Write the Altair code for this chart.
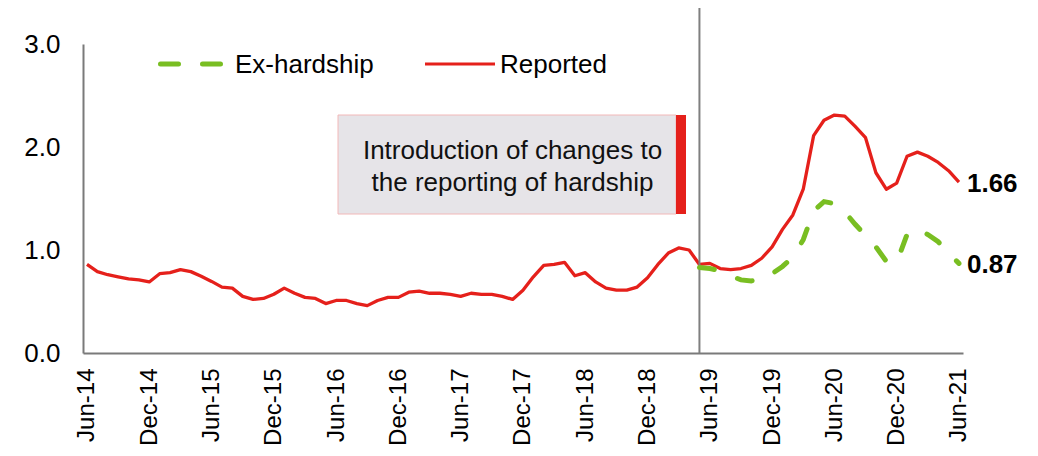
import json
import altair as alt
import pandas as pd

# ---------------- data ----------------
MONTH_NAMES = ["Jan", "Feb", "Mar", "Apr", "May", "Jun",
               "Jul", "Aug", "Sep", "Oct", "Nov", "Dec"]
months = []
yy, mm = 2014, 6
while (yy, mm) <= (2021, 6):
    months.append(f"{MONTH_NAMES[mm - 1]}-{str(yy)[2:]}")
    mm += 1
    if mm > 12:
        mm, yy = 1, yy + 1

# Reported series, Jun-14 .. Jun-21 (monthly)
reported = [
    0.86, 0.79, 0.76, 0.74, 0.72, 0.71, 0.69,
    0.77, 0.78, 0.81, 0.79, 0.745, 0.695,
    0.64, 0.63, 0.55, 0.52, 0.53, 0.57,
    0.63, 0.58, 0.54, 0.53, 0.48, 0.51,
    0.51, 0.48, 0.46, 0.51, 0.54, 0.54,
    0.59, 0.60, 0.58, 0.58, 0.57, 0.55,
    0.58, 0.57, 0.57, 0.55, 0.52, 0.61,
    0.74, 0.85, 0.86, 0.88, 0.75, 0.78,
    0.69, 0.63, 0.61, 0.61, 0.64, 0.73,
    0.86, 0.97, 1.02, 1.00, 0.86, 0.87,
    0.82, 0.81, 0.82, 0.85, 0.92, 1.03,
    1.20, 1.34, 1.59, 2.11, 2.26, 2.31,
    2.30, 2.20, 2.09, 1.75, 1.59, 1.65,
    1.91, 1.95, 1.91, 1.85, 1.77, 1.66,
]

# Ex-hardship series, May-19 .. Jun-21
ex_start = "May-19"
ex_hardship = [
    0.83, 0.82, 0.80, 0.75, 0.71, 0.70, 0.71, 0.77, 0.84, 0.93,
    1.10, 1.38, 1.47, 1.45, 1.37, 1.25, 1.14, 1.03, 0.89, 0.88,
    1.15, 1.21, 1.15, 1.08, 0.97, 0.87,
]

tick_labels = ["Jun-14", "Dec-14", "Jun-15", "Dec-15", "Jun-16", "Dec-16",
               "Jun-17", "Dec-17", "Jun-18", "Dec-18", "Jun-19", "Dec-19",
               "Jun-20", "Dec-20", "Jun-21"]
y_ticks = [0, 1, 2, 3]
change_month = "May-19"
annotation_lines = ["Introduction of changes to", "the reporting of hardship"]
series_names = ["Ex-hardship", "Reported"]

# ---------------- styles ----------------
RED = "#e5201b"
GREEN = "#79be22"
GREY_AXIS = "#7a7a7a"
FONT = "Liberation Sans"
FS = 26

# ---------------- tables ----------------
rows = [{"idx": i, "month": m, "series": "Reported", "value": v}
        for i, (m, v) in enumerate(zip(months, reported))]
s0 = months.index(ex_start)
rows += [{"idx": s0 + j, "month": months[s0 + j], "series": "Ex-hardship", "value": v}
         for j, v in enumerate(ex_hardship)]
df = pd.DataFrame(rows)
df_rep = df[df.series == "Reported"]
df_ex = df[df.series == "Ex-hardship"]
last = df[df.idx == len(months) - 1]
one = pd.DataFrame({"a": [0]})
change_df = pd.DataFrame({"idx": [months.index(change_month)]})

label_expr = json.dumps(tick_labels) + "[round(datum.value / 6)]"

x_enc = alt.X(
    "idx:Q",
    scale=alt.Scale(domain=[-0.385, len(months) - 1 + 0.39], nice=False, zero=False),
    axis=alt.Axis(
        values=[i * 6 for i in range(len(tick_labels))],
        labelExpr=label_expr,
        labelAngle=270,
        labelAlign="right",
        labelBaseline="middle",
        labelPadding=15,
        ticks=False,
        tickSize=0,
        grid=False,
        domainColor=GREY_AXIS,
        domainWidth=2,
        labelFont=FONT,
        labelFontSize=24,
        labelColor="#000000",
        labelOverlap=False,
        labelFlush=False,
        labelBound=False,
    ),
    title=None,
)
y_enc = alt.Y(
    "value:Q",
    scale=alt.Scale(domain=[0, 3], nice=False, zero=True),
    axis=alt.Axis(
        values=y_ticks,
        format=".1f",
        labelPadding=23,
        ticks=False,
        tickSize=0,
        grid=False,
        domainColor=GREY_AXIS,
        domainWidth=2,
        labelFont=FONT,
        labelFontSize=FS,
        labelColor="#000000",
    ),
    title=None,
)

# annotation box
box = alt.Chart(one).mark_rect(fill="#e6e4e8", stroke="#f2b8b8", strokeWidth=1).encode(
    x=alt.value(255), x2=alt.value(593), y=alt.value(71), y2=alt.value(170))
bar = alt.Chart(one).mark_rect(fill=RED).encode(
    x=alt.value(593), x2=alt.value(603), y=alt.value(71), y2=alt.value(170))
ann1 = alt.Chart(one).mark_text(
    text=annotation_lines[0], font=FONT, fontSize=FS, color="#111111",
    align="center", baseline="alphabetic").encode(x=alt.value(429.5), y=alt.value(115))
ann2 = alt.Chart(one).mark_text(
    text=annotation_lines[1], font=FONT, fontSize=FS, color="#111111",
    align="center", baseline="alphabetic").encode(x=alt.value(429.5), y=alt.value(146.5))

vline = alt.Chart(change_df).mark_rule(color="#7f7f7f", strokeWidth=2).encode(
    x=alt.X("idx:Q"), y=alt.value(-36), y2=alt.value(309))

rep_line = alt.Chart(df_rep).mark_line(color=RED, strokeWidth=3.3, strokeJoin="round").encode(
    x=x_enc, y=y_enc)
ex_line = alt.Chart(df_ex).mark_line(
    color=GREEN, strokeWidth=5, strokeDash=[15, 25], strokeCap="round").encode(
    x="idx:Q", y="value:Q")

end_labels = alt.Chart(last).mark_text(
    font=FONT, fontSize=FS, fontWeight="bold", color="#000000",
    align="left", baseline="middle", dx=8, dy=2).encode(
    x="idx:Q", y="value:Q", text=alt.Text("value:Q", format=".2f"))

# legend
leg_g = alt.Chart(one).mark_rule(
    color=GREEN, strokeWidth=5, strokeDash=[18, 24], strokeCap="round").encode(
    x=alt.value(77.5), x2=alt.value(137.5), y=alt.value(20))
leg_g_t = alt.Chart(one).mark_text(
    text=series_names[0], font=FONT, fontSize=FS, color="#000000",
    align="left", baseline="alphabetic").encode(x=alt.value(152), y=alt.value(28.5))
leg_r = alt.Chart(one).mark_rule(color=RED, strokeWidth=3).encode(
    x=alt.value(342), x2=alt.value(412), y=alt.value(20))
leg_r_t = alt.Chart(one).mark_text(
    text=series_names[1], font=FONT, fontSize=FS, color="#000000",
    align="left", baseline="alphabetic").encode(x=alt.value(417), y=alt.value(28.5))

chart = alt.layer(
    rep_line, box, bar, ann1, ann2, vline, ex_line, end_labels,
    leg_g, leg_g_t, leg_r, leg_r_t,
).properties(
    width=880,
    height=309,
    padding={"left": 75, "top": 36, "right": 66, "bottom": 94},
    autosize=alt.AutoSizeParams(type="none"),
    background="white",
).configure_view(strokeWidth=0)

chart.save("out.html", embed_options={"renderer": "svg", "actions": False})
